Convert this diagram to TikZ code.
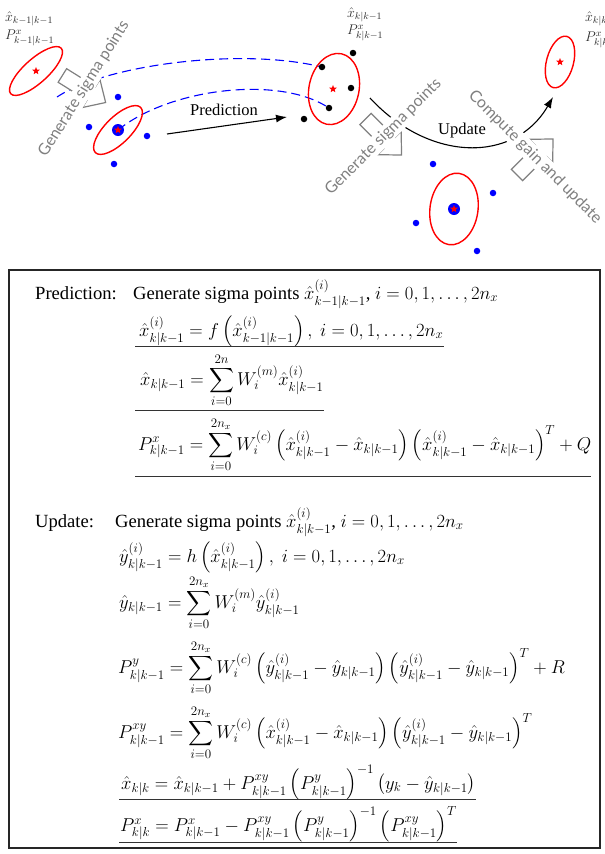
\RequirePackage{fix-cm}
\documentclass[tikz,border=0pt]{standalone}
\usepackage{amsmath}
\usepackage{fontspec}
\setmainfont{Liberation Serif}
\newfontfamily\gsans{Lato}
\usetikzlibrary{shapes.geometric,arrows.meta}
\newcommand{\GrayArrow}[3]{%
  \begin{scope}[shift={(#1,#2)},rotate=#3]
    \draw[garrow] (-25.5,8) -- (8.5,8) -- (8.5,16.5) -- (25.5,0) -- (8.5,-16.5) -- (8.5,-8) -- (-25.5,-8) -- cycle;
  \end{scope}}
\begin{document}
\begin{tikzpicture}[x=1pt,y=-1pt,
  ell/.style={ellipse, draw=red, line width=1.4pt, inner sep=0pt},
  redstar/.style={star, star points=5, star point ratio=2.3, fill=red, inner sep=0pt, minimum size=8pt},
  bdot/.style={circle, fill=blue, inner sep=0pt, minimum size=6.5pt},
  bigdot/.style={circle, fill=blue, inner sep=0pt, minimum size=12pt},
  kdot/.style={circle, fill=black, inner sep=0pt, minimum size=6.5pt},
  sig/.style={draw=blue, line width=1.1pt, dash pattern=on 9pt off 5pt},
  lbl/.style={anchor=west, inner sep=0pt, text=black!82, font=\fontsize{14}{16}\selectfont},
  gtext/.style={fill=white, text=black!50, inner sep=1.5pt, font=\gsans\fontsize{16}{19}\selectfont},
  garrow/.style={draw=black!50, fill=white, line width=1.2pt},
  flow/.style={line width=1.1pt, -{Latex[length=11pt,width=8pt]}},
  flowtxt/.style={font=\fontsize{16.5}{19}\selectfont, inner sep=1pt},
  eq/.style={anchor=base west, inner sep=0pt, font=\fontsize{18.6}{22}\selectfont},
  uline/.style={line width=0.8pt, black!80}
]
\useasboundingbox (0,0) rectangle (605,854);
\clip (0,0) rectangle (605,854);

% anchor points of the sigma-point paths
\coordinate (sA) at (57,97);
\coordinate (c2) at (118,130);
\coordinate (kA) at (322,67);
\coordinate (kB) at (329,108);
\coordinate (c4) at (454,209);

\draw[sig] (sA) .. controls (105,65) and (240,47) .. (kA);
\draw[sig] (c2) .. controls (170,88) and (280,75) .. (kB);

% ellipses
\node[ell, minimum width=68pt, minimum height=24pt, rotate=42] (e1) at (36,71) {};
\node[ell, minimum width=64pt, minimum height=26pt, rotate=45] (e2) at (c2) {};
\node[ell, minimum width=50pt, minimum height=72pt, rotate=-12] (e3) at (334,89) {};
\node[ell, minimum width=48pt, minimum height=72pt, rotate=-8] (e4) at (c4) {};
\node[ell, minimum width=27pt, minimum height=53pt, rotate=-15] (e5) at (560,62) {};

% sigma points (prediction)
\node[bdot] (b1) at (118,97) {};
\node[bdot] (b2) at (89,127) {};
\node[bdot] (b3) at (147,136) {};
\node[bdot] (b4) at (114,164) {};
\node[bigdot] (b0) at (c2) {};
\node[redstar] (s2) at (c2) {};
\node[redstar] (s1) at (36,71) {};

% propagated points
\node[kdot] (k1) at (353,53) {};
\node[kdot] (k2) at (kA) {};
\node[kdot] (k3) at (351,88) {};
\node[kdot] (k4) at (kB) {};
\node[kdot] (k5) at (304,119) {};
\node[redstar] (s3) at (333,89) {};

% sigma points (update)
\node[bdot] (u1) at (433,164) {};
\node[bdot] (u2) at (493,193) {};
\node[bdot] (u3) at (416,223) {};
\node[bdot] (u4) at (477,251) {};
\node[bigdot] (u0) at (c4) {};
\node[redstar] (s4) at (c4) {};
\node[redstar] (s5) at (560,62) {};

% main flow arrows
\coordinate (pa) at (167,134);
\coordinate (pb) at (287,117);
\draw[flow] (pa) -- (pb);
\node[flowtxt] (predtxt) at (224,110) {Prediction};
\coordinate (ua) at (370,98);
\coordinate (ub) at (553,97);
\draw[flow] (ua) .. controls (430,163) and (515,163) .. (ub);
\node[flowtxt] (updtxt) at (462,131) {Update};

% gray hollow arrows
\GrayArrow{84}{89}{-32}
\node[gtext, rotate=58] (g1) at (84,89) {Generate sigma points};
\GrayArrow{383.5}{137}{-45}
\node[gtext, rotate=45] (g2) at (383.5,137) {Generate sigma points};
\GrayArrow{535}{157}{45}
\node[gtext, rotate=-45] (g3) at (535,157) {Compute gain and update};

% labels
\node[lbl] (l1a) at (5,19) {$\hat{x}_{k-1|k-1}$};
\node[lbl] (l1b) at (5,38) {$P^x_{k-1|k-1}$};
\node[lbl] (l2a) at (347,15) {$\hat{x}_{k|k-1}$};
\node[lbl] (l2b) at (347,33) {$P^x_{k|k-1}$};
\node[lbl] (l3a) at (585,19) {$\hat{x}_{k|k}$};
\node[lbl] (l3b) at (585,40) {$P^x_{k|k}$};

% equation box
\draw[line width=1.6pt, black!85] (9,270) rectangle (600,848);

\node[eq] (predlbl) at (35,299) {Prediction:};
\node[eq] (r1) at (133,299) {Generate sigma points $\hat{x}^{(i)}_{k-1|k-1}$, $i=0,1,\dots,2n_x$};
\node[eq] (r2) at (139,336) {$\hat{x}^{(i)}_{k|k-1}=f\left(\hat{x}^{(i)}_{k-1|k-1}\right),\ i=0,1,\dots,2n_x$};
\node[eq] (r3) at (140,385) {$\displaystyle\hat{x}_{k|k-1}=\sum_{i=0}^{2n}W_i^{(m)}\hat{x}^{(i)}_{k|k-1}$};
\node[eq] (r4) at (138,450) {$\displaystyle P^x_{k|k-1}=\sum_{i=0}^{2n_x}W_i^{(c)}\left(\hat{x}^{(i)}_{k|k-1}-\hat{x}_{k|k-1}\right)\left(\hat{x}^{(i)}_{k|k-1}-\hat{x}_{k|k-1}\right)^T+Q$};
\draw[uline] (135,346) -- (r2.east |- 0,346);
\draw[uline] (135,410) -- (r3.east |- 0,410);
\draw[uline] (135,476) -- (r4.east |- 0,476);

\node[eq] (updlbl) at (35,527) {Update:};
\node[eq] (r5) at (115,527) {Generate sigma points $\hat{x}^{(i)}_{k|k-1}$, $i=0,1,\dots,2n_x$};
\node[eq] (r6) at (119,562) {$\hat{y}^{(i)}_{k|k-1}=h\left(\hat{x}^{(i)}_{k|k-1}\right),\ i=0,1,\dots,2n_x$};
\node[eq] (r7) at (119,608) {$\displaystyle\hat{y}_{k|k-1}=\sum_{i=0}^{2n_x}W_i^{(m)}\hat{y}^{(i)}_{k|k-1}$};
\node[eq] (r8) at (118,673) {$\displaystyle P^y_{k|k-1}=\sum_{i=0}^{2n_x}W_i^{(c)}\left(\hat{y}^{(i)}_{k|k-1}-\hat{y}_{k|k-1}\right)\left(\hat{y}^{(i)}_{k|k-1}-\hat{y}_{k|k-1}\right)^T+R$};
\node[eq] (r9) at (118,738) {$\displaystyle P^{xy}_{k|k-1}=\sum_{i=0}^{2n_x}W_i^{(c)}\left(\hat{x}^{(i)}_{k|k-1}-\hat{x}_{k|k-1}\right)\left(\hat{y}^{(i)}_{k|k-1}-\hat{y}_{k|k-1}\right)^T$};
\node[eq] (r10) at (121,789) {$\hat{x}_{k|k}=\hat{x}_{k|k-1}+P^{xy}_{k|k-1}\left(P^y_{k|k-1}\right)^{-1}\left(y_k-\hat{y}_{k|k-1}\right)$};
\node[eq] (r11) at (120,831) {$P^x_{k|k}=P^x_{k|k-1}-P^{xy}_{k|k-1}\left(P^y_{k|k-1}\right)^{-1}\left(P^{xy}_{k|k-1}\right)^T$};
\draw[uline] (119,799) -- (r10.east |- 0,799);
\draw[uline] (119,842) -- (r11.east |- 0,842);
\end{tikzpicture}
\end{document}
